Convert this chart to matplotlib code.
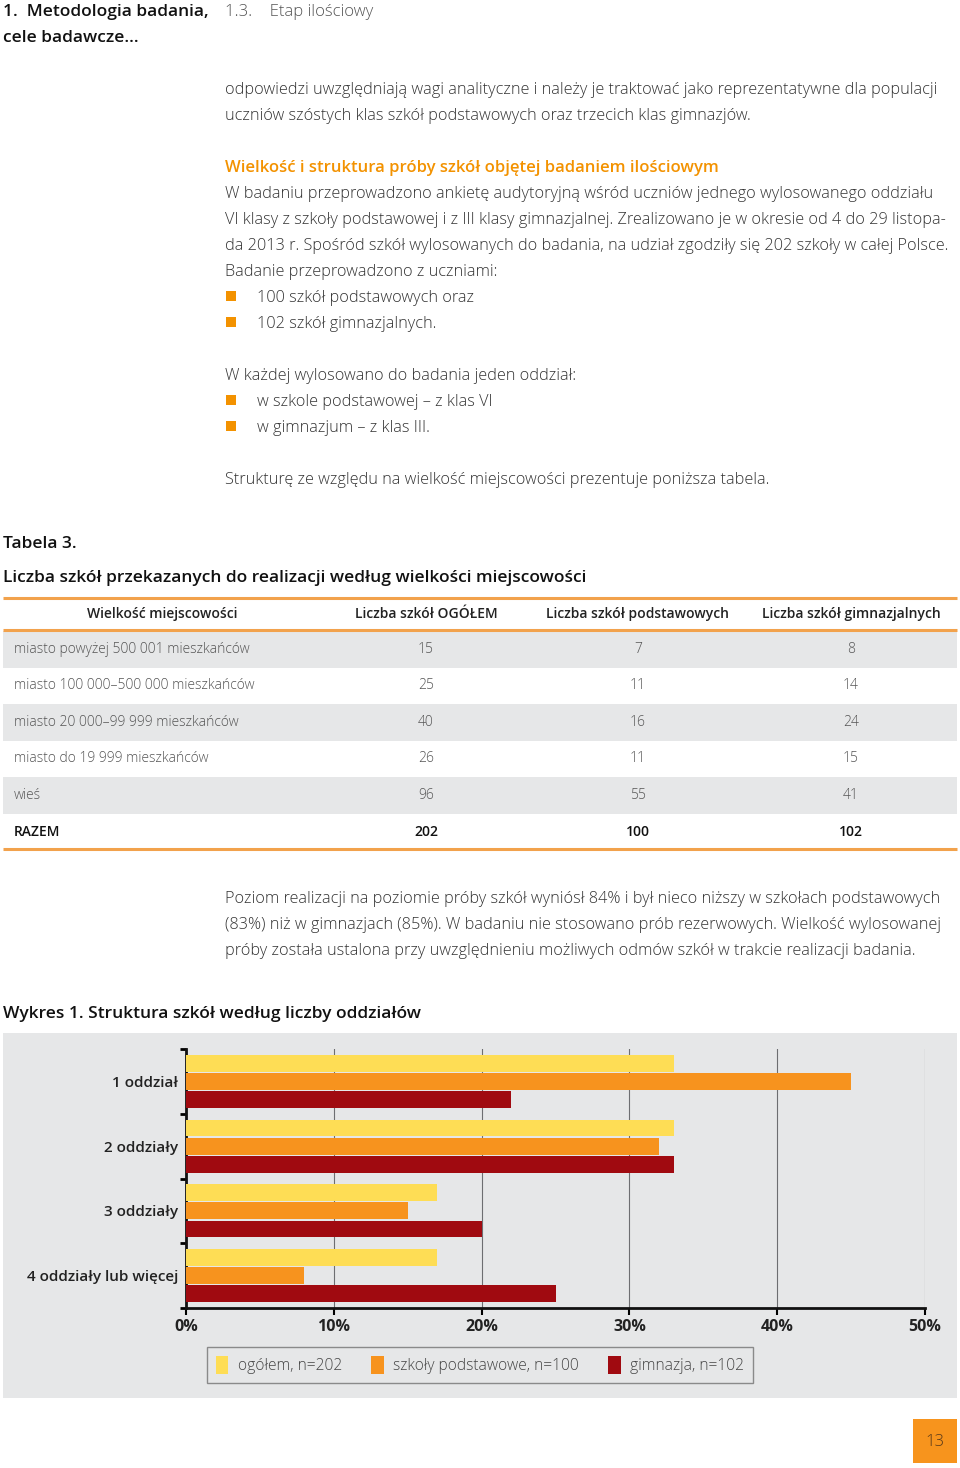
import matplotlib
matplotlib.use("Agg")
import matplotlib.pyplot as plt
from matplotlib.patches import Rectangle, Patch

plt.rcParams['font.family'] = ['Open Sans', 'DejaVu Sans']

# --- tekst strony ---
naglowek = ["1.  Metodologia badania,", "cele badawcze…"]
rozdzial = "1.3.    Etap ilościowy"
akapit1 = ["odpowiedzi uwzględniają wagi analityczne i należy je traktować jako reprezentatywne dla populacji",
           "uczniów szóstych klas szkół podstawowych oraz trzecich klas gimnazjów."]
tytul_sekcji = "Wielkość i struktura próby szkół objętej badaniem ilościowym"
akapit2 = ["W badaniu przeprowadzono ankietę audytoryjną wśród uczniów jednego wylosowanego oddziału",
           "VI klasy z szkoły podstawowej i z III klasy gimnazjalnej. Zrealizowano je w okresie od 4 do 29 listopa-",
           "da 2013 r. Spośród szkół wylosowanych do badania, na udział zgodziły się 202 szkoły w całej Polsce.",
           "Badanie przeprowadzono z uczniami:"]
punkty1 = ["100 szkół podstawowych oraz", "102 szkół gimnazjalnych."]
akapit3 = ["W każdej wylosowano do badania jeden oddział:"]
punkty2 = ["w szkole podstawowej – z klas VI", "w gimnazjum – z klas III."]
akapit4 = ["Strukturę ze względu na wielkość miejscowości prezentuje poniższa tabela."]
akapit5 = ["Poziom realizacji na poziomie próby szkół wyniósł 84% i był nieco niższy w szkołach podstawowych",
           "(83%) niż w gimnazjach (85%). W badaniu nie stosowano prób rezerwowych. Wielkość wylosowanej",
           "próby została ustalona przy uwzględnieniu możliwych odmów szkół w trakcie realizacji badania."]
tabela_tytul = ["Tabela 3.", "Liczba szkół przekazanych do realizacji według wielkości miejscowości"]
wykres_tytul = "Wykres 1. Struktura szkół według liczby oddziałów"

# --- dane tabeli ---
kolumny = ["Wielkość miejscowości", "Liczba szkół OGÓŁEM", "Liczba szkół podstawowych",
           "Liczba szkół gimnazjalnych"]
miejscowosc = ["miasto powyżej 500 001 mieszkańców", "miasto 100 000–500 000 mieszkańców",
               "miasto 20 000–99 999 mieszkańców", "miasto do 19 999 mieszkańców", "wieś"]
szkoly_ogolem = [15, 25, 40, 26, 96]
szkoly_podst = [7, 11, 16, 11, 55]
szkoly_gimn = [8, 14, 24, 15, 41]

# --- dane wykresu ---
kategorie = ["1 oddział", "2 oddziały", "3 oddziały", "4 oddziały lub więcej"]
ogolem_pct = [33, 33, 17, 17]
podst_pct = [45, 32, 15, 8]
gimn_pct = [22, 33, 20, 25]
serie = ["ogółem, n=202", "szkoły podstawowe, n=100", "gimnazja, n=102"]
kolory = ["#fedd55", "#f7931e", "#a00a10"]

ORANGE = "#f39200"
TXT = "#333333"
GRAY = "#e6e7e8"

fig = plt.figure(figsize=(9.6, 14.68), dpi=100)
page = fig.add_axes([0, 0, 1, 1])
page.set_xlim(0, 960)
page.set_ylim(1468, 0)
page.axis("off")

def linie(lines, x, y0, step=26, **kw):
    for i, s in enumerate(lines):
        page.text(x, y0 + i * step, s, va="baseline", ha="left", **kw)

body = dict(fontsize=11.7, fontweight="light", color=TXT)

# naglowek
linie(naglowek, 3, 16, fontsize=12.5, fontweight="semibold", color="#111111")
page.text(225, 16, rozdzial, va="baseline", fontsize=12, fontweight="light", color="#555555")

linie(akapit1, 225, 94, **body)
page.text(225, 172, tytul_sekcji, va="baseline", fontsize=12, fontweight="semibold", color=ORANGE)
linie(akapit2, 225, 198, **body)
linie(punkty1, 257, 302, **body)
linie(akapit3, 225, 380, **body)
linie(punkty2, 257, 406, **body)
linie(akapit4, 225, 484, **body)
for y in [296, 322, 400, 426]:
    page.add_patch(Rectangle((226, y - 5), 10, 10, color=ORANGE, lw=0))

# tabela
linie(tabela_tytul, 3, 548, step=34, fontsize=12.5, fontweight="semibold", color="#111111")
row_h = 36.5
top = 631
for i in range(len(miejscowosc) + 1):
    if i % 2 == 0 and i < len(miejscowosc):
        page.add_patch(Rectangle((3, top + i * row_h), 954, row_h, color=GRAY, lw=0))
for y in [598, 630, 849]:
    page.plot([3, 957], [y, y], color="#f2a24c", lw=2.2, solid_capstyle="butt")
col_x = [162, 426, 638, 851]
for x, s in zip(col_x, kolumny):
    page.text(x, 614, s, ha="center", va="center", fontsize=10, fontweight="semibold", color="#222222")
wiersze = list(zip(miejscowosc, szkoly_ogolem, szkoly_podst, szkoly_gimn))
wiersze.append(("RAZEM", sum(szkoly_ogolem), sum(szkoly_podst), sum(szkoly_gimn)))
for i, w in enumerate(wiersze):
    yc = top + (i + 0.5) * row_h
    last = i == len(wiersze) - 1
    fw = "semibold" if last else "light"
    c = "#111111" if last else "#555555"
    page.text(14, yc, w[0], ha="left", va="center", fontsize=10, fontweight=fw, color=c)
    for x, v in zip(col_x[1:], w[1:]):
        page.text(x, yc, str(v), ha="center", va="center", fontsize=10, fontweight=fw, color=c)

linie(akapit5, 225, 903, **body)

# wykres
page.text(3, 1018, wykres_tytul, va="baseline", fontsize=12.5, fontweight="semibold", color="#111111")
page.add_patch(Rectangle((3, 1033), 954, 365, color=GRAY, lw=0))

ax = fig.add_axes([186 / 960, 1 - 1308 / 1468, (925 - 186) / 960, (1308 - 1049) / 1468])
ax.patch.set_alpha(0)
n = len(kategorie)
centra = [i + 0.5 for i in range(n)]
for k, (vals, col) in enumerate(zip([ogolem_pct, podst_pct, gimn_pct], kolory)):
    ax.barh([c + (k - 1) * 0.28 for c in centra], vals, height=0.26, color=col, zorder=3)
ax.set_xlim(0, 50)
ax.set_ylim(n, 0)
ax.set_xticks(range(0, 51, 10))
ax.set_xticklabels([f"{t}%" for t in range(0, 51, 10)], fontsize=11.5, fontweight="bold", color="#222222")
ax.set_yticks(range(n + 1))
ax.set_yticklabels([])
ax.set_yticks(centra, minor=True)
ax.set_yticklabels(kategorie, minor=True, fontsize=11, fontweight="semibold", color="#222222")
ax.tick_params(axis="y", which="minor", length=0, pad=5.5)
ax.tick_params(axis="y", which="major", length=4, width=2, direction="out")
ax.tick_params(axis="x", length=5, width=1.5, direction="out", pad=3)
ax.grid(axis="x", color="#6d6e71", lw=0.8, zorder=1)
for s in ["top", "right"]:
    ax.spines[s].set_visible(False)
for s in ["left", "bottom"]:
    ax.spines[s].set_linewidth(2)
    ax.spines[s].set_color("#111111")

uchwyty = [Patch(facecolor=c, edgecolor="none") for c in kolory]
leg = fig.legend(uchwyty, serie, loc="center", bbox_to_anchor=(480 / 960, 1 - 1365 / 1468), ncol=3,
                 frameon=True, fancybox=False, edgecolor="#8a8a8a", facecolor=GRAY, framealpha=1,
                 prop=dict(size=11.2, weight="light"), handlelength=0.8, handleheight=1.4,
                 handletextpad=0.6, columnspacing=1.9, borderpad=0.55)
for t in leg.get_texts():
    t.set_color("#444444")

# numer strony
page.add_patch(Rectangle((913, 1419), 44, 44, color="#f7941d", lw=0))
page.text(935, 1442, "13", ha="center", va="center", fontsize=12, fontweight="light", color="#5a3a1a")

fig.savefig("out.png", dpi=100)
